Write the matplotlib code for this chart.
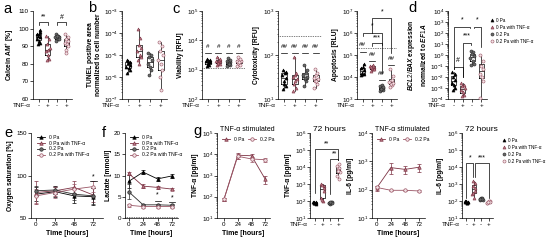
import numpy as np
import matplotlib.pyplot as plt
from matplotlib.lines import Line2D
from matplotlib.ticker import LogLocator, NullFormatter, FixedLocator

plt.rcParams['font.family'] = ['Liberation Sans', 'DejaVu Sans']
plt.rcParams['mathtext.fontset'] = 'custom'
plt.rcParams['mathtext.rm'] = 'Liberation Sans'
plt.rcParams['mathtext.it'] = 'Liberation Sans:italic:bold'
plt.rcParams['mathtext.bf'] = 'Liberation Sans:bold'
plt.rcParams['axes.linewidth'] = 0.5

# ---- data ----
groups = ['0 Pa', '0 Pa with TNF-α', '0.2 Pa', '0.2 Pa with TNF-α']
tnf = ['-', '+', '-', '+']

calcein = [[97, 98, 96, 95, 94, 93, 92, 91, 97, 99],
           [96, 94, 91, 89, 87, 85, 83, 82, 88],
           [97, 96, 96, 95, 95, 94, 94, 93, 96],
           [97, 95, 94, 93, 92, 91, 90, 88, 86]]

tunel = [[6e-6, 5e-6, 4.5e-6, 3.5e-6, 3e-6, 2.5e-6, 2e-6, 1.5e-6, 5.5e-6],
         [1.6e-4, 6e-5, 3e-5, 2e-5, 1.5e-5, 1e-5, 8e-6, 6e-6, 4e-6],
         [1.2e-5, 1e-5, 8e-6, 6e-6, 4e-6, 3e-6, 2e-6, 1.2e-6],
         [4e-5, 2.5e-5, 1.5e-5, 1e-5, 6e-6, 4e-6, 2e-6, 1e-6, 2.5e-7]]

viability = [[1.3e3, 1.5e3, 1.7e3, 1.8e3, 1.9e3, 2.0e3, 2.2e3, 2.4e3, 1.6e3],
             [1.4e3, 1.6e3, 1.8e3, 1.9e3, 2.0e3, 2.1e3, 2.3e3, 2.6e3, 1.7e3],
             [1.3e3, 1.5e3, 1.7e3, 1.8e3, 1.9e3, 2.0e3, 2.2e3, 2.5e3, 1.6e3],
             [1.3e3, 1.5e3, 1.7e3, 1.9e3, 2.0e3, 2.2e3, 2.4e3, 2.7e3, 1.8e3]]

cytotox = [[17, 20, 25, 30, 35, 40, 42, 45, 22],
           [15, 18, 22, 28, 32, 35, 40, 90, 25],
           [20, 25, 28, 32, 35, 38, 45, 60, 30],
           [18, 22, 25, 28, 30, 35, 40, 48, 26]]

apoptosis = [[1.2e4, 1.4e4, 1.6e4, 2e4, 2.5e4, 3e4, 4e4, 1.3e4],
             [1.8e4, 2.2e4, 2.5e4, 2.8e4, 3.2e4, 3.5e4, 2.4e4, 3e4],
             [2.2e3, 2.6e3, 3e3, 3.3e3, 3.8e3, 4.2e3, 3.5e3, 2.8e3],
             [3.5e3, 4.5e3, 5e3, 5.5e3, 6e3, 7e3, 1.1e4, 2.2e4]]

bcl2bax = [[3e-2, 2e-2, 1e-2, 5e-3, 3e-3, 2e-3, 1e-3, 7e-4],
           [3e-3, 2e-3, 1.5e-3, 1e-3, 7e-4, 4e-4, 2.5e-4, 1.8e-4],
           [2.5, 1.8, 1.2, 0.8, 0.5, 0.3, 0.15, 0.13],
           [1.0, 0.3, 0.1, 0.05, 0.02, 0.01, 4e-3, 1.2e-4]]

hours = [0, 24, 48, 72]
oxygen = [[78, 81, 76, 75], [80, 82, 86, 77], [82, 83, 78, 76], [76, 80, 84, 87]]
oxygen_err = [[8, 6, 8, 10], [14, 6, 7, 8], [6, 5, 7, 9], [8, 6, 6, 6]]
lactate = [[8.6, 10.8, 9.2, 9.9], [10.5, 7.5, 7.2, 6.8], [6.2, 3.1, 3.1, 3.0], [3.0, 2.7, 2.7, 2.7]]
lactate_err = [[1.6, 0.4, 0.4, 0.4], [0.4, 0.4, 0.3, 0.3], [1.8, 0.3, 0.3, 0.3], [0.3, 0.3, 0.3, 0.3]]

stim_series = ['0 Pa', '0.2 Pa']
tnf_time = [[75, 9e3, 8.5e3, 650], [75, 8e3, 6e3, 5.5e3]]
tnf_time_err = [[10, 3e3, 1.5e3, 250], [10, 2e3, 1.5e3, 1.2e3]]
il6_time = [[115, 600, 520, 620], [120, 95, 95, 90]]
il6_time_err = [[25, 250, 150, 200], [10, 5, 5, 5]]

tnf_72 = [[75, 80, 85, 70, 90, 78, 82, 72],
          [1e3, 8e2, 9e2, 4e2, 1.5e2, 1e2, 6e2, 1.2e2],
          [75, 85, 70, 90, 80, 78, 72, 88],
          [1.2e4, 9e3, 7e3, 5e3, 3e3, 2e3, 1.5e4, 6e3]]
il6_72 = [[90, 80, 100, 85, 95, 75, 88, 92],
          [1.6e3, 1.2e3, 8e2, 4e2, 2.5e2, 1.5e2, 6e2, 3e2],
          [120, 140, 160, 110, 130, 150, 125, 135],
          [80, 90, 85, 95, 75, 100, 88, 82]]

# ---- styles ----
MAROON = '#7d3344'
styles = [dict(marker='^', mfc='black', mec='black'),
          dict(marker='^', mfc='#b87884', mec=MAROON),
          dict(marker='o', mfc='#6a6a6a', mec='#2a2a2a'),
          dict(marker='o', mfc='#f3e3e6', mec='#9a5565')]
jit = [-0.15, 0.12, -0.05, 0.18, -0.2, 0.05, 0.15, -0.1, 0.0, 0.2]

W, H = 546, 242
fig = plt.figure(figsize=(W / 100, H / 100), dpi=100)


def ax_px(x0, y0, x1, y1):
    return fig.add_axes([x0 / W, 1 - y1 / H, (x1 - x0) / W, (y1 - y0) / H])


def style_ax(ax):
    ax.spines['top'].set_visible(False)
    ax.spines['right'].set_visible(False)
    ax.tick_params(labelsize=4.5, length=2, width=0.5, pad=1)
    ax.tick_params(which='minor', length=1, width=0.4)


def log_axis(ax, lo, hi):
    ax.set_yscale('log')
    ax.set_ylim(10.0 ** lo, 10.0 ** hi)
    ax.yaxis.set_major_locator(FixedLocator([10.0 ** k for k in range(lo, hi + 1)]))
    ax.set_yticklabels(['$10^{%d}$' % k for k in range(lo, hi + 1)])
    ax.yaxis.set_minor_locator(LogLocator(base=10, subs=np.arange(2, 10), numticks=50))
    ax.yaxis.set_minor_formatter(NullFormatter())


def box_panel(ax, data, ylabel):
    pos = np.arange(1, 5)
    ax.boxplot(data, positions=pos, widths=0.55, whis=(0, 100), showcaps=False,
               boxprops=dict(lw=0.5), whiskerprops=dict(lw=0.5),
               medianprops=dict(color='black', lw=0.5), showfliers=False)
    for i, vals in enumerate(data):
        xs = [pos[i] + jit[k % len(jit)] for k in range(len(vals))]
        ax.plot(xs, vals, ls='none', ms=2.2, mew=0.4, zorder=3, **styles[i])
    ax.set_xlim(0.4, 4.6)
    ax.set_xticks(pos)
    ax.set_xticklabels(tnf)
    style_ax(ax)
    ax.set_ylabel(ylabel, fontsize=4.8, fontweight='bold', labelpad=1.5)
    ax.annotate('TNF-α', xy=(0, 0), xycoords='axes fraction', xytext=(-2, -3.2),
                textcoords='offset points', ha='right', va='top', fontsize=4.5)


def bracket(ax, x1, x2, y, y1, y2, txt, ty):
    ax.plot([x1, x1, x2, x2], [y1, y, y, y2], color='black', lw=0.5, clip_on=False)
    ax.text((x1 + x2) / 2, ty, txt, ha='center', va='center', fontsize=5)


def hash_mark(ax, x, y, ty, txt):
    ax.plot([x - 0.3, x + 0.3], [y, y], color='black', lw=0.5)
    ax.text(x, ty, txt, ha='center', va='center', fontsize=4.5)


def panel_letter(x, y, s):
    fig.text(x / W, 1 - y / H, s, fontsize=10.5, ha='left', va='center')


# a
ax = ax_px(33, 11, 72, 99)
box_panel(ax, calcein, 'Calcein AM$^{+}$ [%]')
ax.set_ylim(60, 110)
ax.set_yticks([60, 70, 80, 90, 100, 110])
bracket(ax, 1, 2, 104, 102, 102, '**', 106.5)
bracket(ax, 3, 4, 104, 102, 102, '#', 106.5)
panel_letter(3, 9, 'a')

# b
ax = ax_px(122, 11, 167, 99)
box_panel(ax, tunel, 'TUNEL positive area\nnormalized to cell number')
log_axis(ax, -7, -3)
panel_letter(88, 8, 'b')

# c
ax = ax_px(202, 11, 245, 99)
box_panel(ax, viability, 'Viability [RFU]')
log_axis(ax, 2, 5)
ax.axhline(1.1e3, color='black', lw=0.5, ls=(0, (1, 1.5)))
for i in range(4):
    hash_mark(ax, i + 1, 3.8e3, 6e3, '#')
panel_letter(172, 9, 'c')

ax = ax_px(278, 11, 322, 99)
box_panel(ax, cytotox, 'Cytotoxicity [RFU]')
log_axis(ax, 1, 3)
ax.axhline(265, color='black', lw=0.5, ls=(0, (1, 1.5)))
for i in range(4):
    hash_mark(ax, i + 1, 113, 152, '##')

ax = ax_px(357, 11, 397, 99)
box_panel(ax, apoptosis, 'Apoptosis [RLU]')
log_axis(ax, 3, 7)
ax.axhline(2.1e5, color='black', lw=0.5, ls=(0, (1, 1.5)))
for i, (ly, ty) in enumerate([(1.4e5, 3e5), (5.5e4, 1.1e5), (7e3, 1.4e4), (3.5e4, 7e4)]):
    hash_mark(ax, i + 1, ly, ty, '##')
bracket(ax, 2, 4, 4.8e6, 1e6, 1.2e5, '*', 9e6)
bracket(ax, 1, 3, 1e6, 7e5, 3e5, '*', 2e6)
bracket(ax, 2, 3, 3.5e5, 2.5e5, 1.5e4, '***', 6e5)

# d
ax = ax_px(448, 11, 487, 99)
box_panel(ax, bcl2bax, '$\\it{BCL2/BAX}$ expression\nnormalized to $\\it{EF1A}$')
log_axis(ax, -4, 4)
bracket(ax, 1, 2.8, 3.5e2, 5e-2, 3e2, '*', 1.5e3)
bracket(ax, 3.2, 4, 3.5e2, 3e2, 5e0, '*', 1.5e3)
bracket(ax, 2, 2.9, 1.2e1, 1e-2, 9, '***', 5e1)
bracket(ax, 1, 2, 8e-2, 5e-2, 1e-2, '#', 3e-1)
panel_letter(408, 8, 'd')
handles = [Line2D([], [], ls='none', ms=2.2, mew=0.4, **s) for s in styles]
fig.legend(handles, groups, loc='upper left', bbox_to_anchor=(488 / W, 1 - 16 / H),
           frameon=False, fontsize=3.3, handlelength=0.8, handletextpad=0.6,
           labelspacing=0.45, borderaxespad=0)


def time_panel(ax, series, errs, idx, ylabel, xlim):
    for k, (vals, err) in enumerate(zip(series, errs)):
        s = styles[idx[k]]
        ax.errorbar(hours, vals, yerr=err, color=s['mec'] if idx[k] != 0 else 'black',
                    lw=0.6, elinewidth=0.5, capsize=1.2, capthick=0.5, ms=2.5, mew=0.5, **s)
    ax.set_xlim(*xlim)
    ax.set_xticks(hours)
    style_ax(ax)
    ax.set_ylabel(ylabel, fontsize=4.8, fontweight='bold', labelpad=1.5)
    ax.set_xlabel('Time [hours]', fontsize=5, fontweight='bold', labelpad=2)


def line_handles(idx):
    return [Line2D([], [], color=styles[i]['mec'] if i != 0 else 'black', lw=0.6,
                   ms=2.5, mew=0.5, **styles[i]) for i in idx]


# e
ax = ax_px(31, 133, 103, 218)
time_panel(ax, oxygen, oxygen_err, [0, 1, 2, 3], 'Oxygen saturation [%]', (-6, 84))
ax.set_ylim(50, 150)
ax.set_yticks([50, 100, 150])
ax.plot([68, 76], [93, 93], color='black', lw=0.5)
ax.text(72, 98, '*', ha='center', va='center', fontsize=5)
ax.legend(line_handles([0, 1, 2, 3]), groups, loc='upper left', bbox_to_anchor=(0.05, 1.0),
          frameon=False, fontsize=3.6, handlelength=1.6, labelspacing=0.15, borderaxespad=0)
panel_letter(4, 133, 'e')

# f
ax = ax_px(125, 133, 178, 218)
time_panel(ax, lactate, lactate_err, [0, 1, 2, 3], 'Lactate [mmol/l]', (-6, 82))
ax.set_ylim(0, 20)
ax.set_yticks([0, 5, 10, 15, 20])
ax.axhline(0.25, color='black', lw=0.5, ls=(0, (1, 1.5)))
for x, ly, ty in [(48, 4.0, 5.4), (72, 3.8, 4.8)]:
    ax.plot([x - 5, x + 5], [ly, ly], color='black', lw=0.5)
    ax.text(x, ty, '*', ha='center', va='center', fontsize=5)
ax.legend(line_handles([0, 1, 2, 3]), groups, loc='upper left', bbox_to_anchor=(0.05, 1.0),
          frameon=False, fontsize=3.6, handlelength=1.6, labelspacing=0.15, borderaxespad=0)
panel_letter(102, 133, 'f')

# g
ax = ax_px(217, 133, 270, 218)
time_panel(ax, tnf_time, tnf_time_err, [1, 3], 'TNF-α [pg/ml]', (-12, 80))
log_axis(ax, 1, 5)
ax.set_title('TNF-α stimulated', fontsize=5, loc='left', pad=1, x=0.05)
ax.legend(line_handles([1, 3]), stim_series, loc='upper left', bbox_to_anchor=(0.05, 0.98),
          frameon=False, fontsize=3.6, handlelength=1.6, ncol=2, columnspacing=0.8,
          borderaxespad=0)
panel_letter(193, 131, 'g')

ax = ax_px(310, 133, 343, 218)
box_panel(ax, tnf_72, 'TNF-α [pg/ml]')
log_axis(ax, 1, 6)
ax.set_title('72 hours', fontsize=6, loc='left', pad=0, x=0.1)
bracket(ax, 1, 4, 1.1e5, 3e2, 2.5e4, '**', 2.3e5)
bracket(ax, 3, 4, 3e4, 2.5e2, 2.5e4, '**', 6e4)

ax = ax_px(372, 133, 425, 218)
time_panel(ax, il6_time, il6_time_err, [1, 3], 'IL-6 [pg/ml]', (-8, 82))
log_axis(ax, 1, 4)
ax.set_title('TNF-α stimulated', fontsize=5, loc='left', pad=1, x=0.05)
ax.legend(line_handles([1, 3]), stim_series, loc='upper left', bbox_to_anchor=(0.05, 0.98),
          frameon=False, fontsize=3.6, handlelength=1.6, ncol=2, columnspacing=0.8,
          borderaxespad=0)

ax = ax_px(462, 133, 493, 218)
box_panel(ax, il6_72, 'IL-6 [pg/ml]')
log_axis(ax, 1, 6)
ax.set_title('72 hours', fontsize=6, loc='left', pad=0, x=0.1)
bracket(ax, 1, 1.9, 1.7e4, 1.5e2, 2.5e3, '*', 3.5e4)
bracket(ax, 2.1, 4, 1.7e4, 2.5e3, 1.5e2, '***', 3.5e4)
fig.legend(handles, groups, loc='upper left', bbox_to_anchor=(500 / W, 1 - 136 / H),
           frameon=False, fontsize=3.3, handlelength=0.8, handletextpad=0.6,
           labelspacing=0.45, borderaxespad=0)

fig.savefig('out.png', dpi=100)
